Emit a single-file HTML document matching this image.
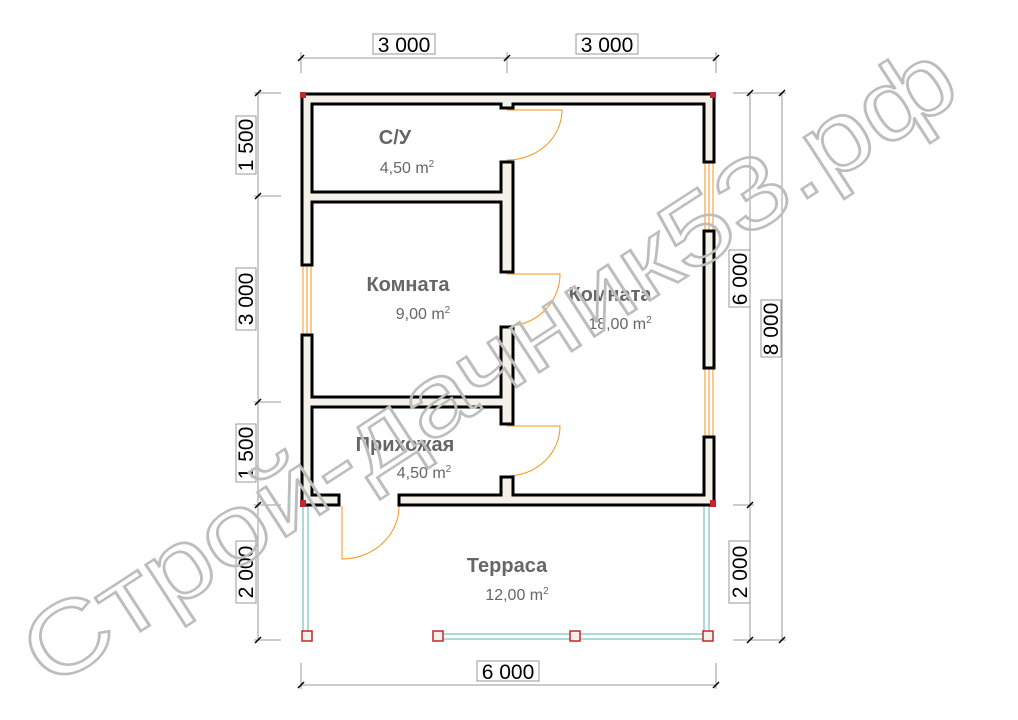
<!DOCTYPE html>
<html><head><meta charset="utf-8"><style>
html,body{margin:0;padding:0;background:#fff;width:1018px;height:720px;overflow:hidden}
svg{display:block}
.dim{font-family:"Liberation Sans",sans-serif;font-size:21px;fill:#000}
.lbl{font-family:"Liberation Sans",sans-serif;font-weight:bold;font-size:20px;fill:#666}
.ar{font-family:"Liberation Sans",sans-serif;font-size:16px;fill:#666}
</style></head><body>
<svg width="1018" height="720" viewBox="0 0 1018 720">
<g stroke="#999" stroke-width="1" fill="none">
<line x1="301" y1="58" x2="716" y2="58"/>
<line x1="301" y1="52" x2="301" y2="73"/><line x1="507" y1="52" x2="507" y2="73"/><line x1="716" y1="52" x2="716" y2="73"/>
<line x1="258" y1="93" x2="258" y2="640"/>
<line x1="254" y1="93" x2="281" y2="93"/><line x1="254" y1="196" x2="281" y2="196"/><line x1="254" y1="402" x2="281" y2="402"/><line x1="254" y1="505" x2="281" y2="505"/><line x1="254" y1="640" x2="281" y2="640"/>
<line x1="750" y1="93" x2="750" y2="640"/><line x1="782" y1="93" x2="782" y2="640"/>
<line x1="733" y1="93" x2="786" y2="93"/><line x1="733" y1="505" x2="754" y2="505"/><line x1="733" y1="640" x2="786" y2="640"/>
<line x1="301" y1="685" x2="716" y2="685"/>
<line x1="301" y1="663" x2="301" y2="689"/><line x1="716" y1="663" x2="716" y2="689"/>
</g>
<g stroke="#000" stroke-width="1.5">
<line x1="298" y1="61" x2="304" y2="55"/><line x1="504" y1="61" x2="510" y2="55"/><line x1="713" y1="61" x2="719" y2="55"/>
<line x1="255" y1="96" x2="261" y2="90"/><line x1="255" y1="199" x2="261" y2="193"/><line x1="255" y1="405" x2="261" y2="399"/><line x1="255" y1="508" x2="261" y2="502"/><line x1="255" y1="643" x2="261" y2="637"/>
<line x1="747" y1="96" x2="753" y2="90"/><line x1="747" y1="508" x2="753" y2="502"/><line x1="747" y1="643" x2="753" y2="637"/>
<line x1="779" y1="96" x2="785" y2="90"/><line x1="779" y1="643" x2="785" y2="637"/>
<line x1="298" y1="688" x2="304" y2="682"/><line x1="713" y1="688" x2="719" y2="682"/>
</g>
<g fill="#fff" stroke="#999" stroke-width="1">
<rect x="373" y="34" width="62" height="20"/><rect x="576" y="34" width="62" height="20"/>
<rect x="236" y="116" width="20" height="58"/><rect x="236" y="268" width="20" height="62"/><rect x="236" y="424" width="20" height="58"/><rect x="236" y="541" width="20" height="62"/>
<rect x="729" y="250" width="21" height="57"/><rect x="729" y="541" width="21" height="62"/><rect x="761" y="300" width="20" height="57"/>
<rect x="477" y="661" width="62" height="20"/>
</g>
<text class="dim" x="404" y="52" text-anchor="middle">3 000</text>
<text class="dim" x="607" y="52" text-anchor="middle">3 000</text>
<text class="dim" x="508" y="679" text-anchor="middle">6 000</text>
<g class="dim" text-anchor="middle">
<text transform="translate(253,145) rotate(-90)">1 500</text>
<text transform="translate(253,299) rotate(-90)">3 000</text>
<text transform="translate(253,453) rotate(-90)">1 500</text>
<text transform="translate(253,572) rotate(-90)">2 000</text>
<text transform="translate(747,279) rotate(-90)">6 000</text>
<text transform="translate(747,572) rotate(-90)">2 000</text>
<text transform="translate(778,329) rotate(-90)">8 000</text>
</g>
<g stroke="#f7931e" stroke-width="1" fill="none">
<rect x="303" y="265" width="8" height="70"/><line x1="307" y1="265" x2="307" y2="335"/>
<rect x="705" y="162" width="8" height="69"/><line x1="709" y1="162" x2="709" y2="231"/>
<rect x="705" y="368" width="8" height="69"/><line x1="709" y1="368" x2="709" y2="437"/>
<path d="M507,110 H562 A55,50 0 0 1 507,160"/>
<path d="M507,274 H560 A53,52 0 0 1 507,326"/>
<path d="M507,426 H560 A53,50 0 0 1 507,476"/>
<path d="M342,506 V559 A57,53 0 0 0 399,506"/>
</g>
<g stroke="#5fb3b3" stroke-width="1" fill="none">
<rect x="303" y="506" width="5" height="130"/>
<rect x="704" y="506" width="5" height="130"/>
<rect x="443" y="634" width="264" height="5"/>
</g>
<g fill="#f4f1ea" stroke="#000" stroke-width="3">
<path d="M302,94 H714 V162 H704 V104 H513 V108 H501 V104 H312 V192 H501 V162 H513 V272 H501 V202 H312 V265 H302 Z"/>
<path d="M302,335 H312 V397 H501 V327 H513 V424 H501 V407 H312 V495 H339 V505 H302 Z"/>
<path d="M399,505 V495 H501 V477 H513 V495 H704 V437 H714 V505 Z"/>
<path d="M704,231 H714 V368 H704 Z"/>
</g>
<g fill="#c1272d">
<rect x="300" y="92" width="6" height="6"/><rect x="710" y="92" width="6" height="6"/>
<rect x="300" y="500" width="6" height="7"/><rect x="710" y="500" width="6" height="7"/>
</g>
<g fill="#f4f1ea" stroke="#c1272d" stroke-width="1.5">
<rect x="302" y="631" width="10" height="10"/><rect x="433" y="631" width="10" height="10"/><rect x="570" y="631" width="10" height="10"/><rect x="703" y="631" width="10" height="10"/>
</g>
<text class="lbl" x="395" y="144" text-anchor="middle">С/У</text>
<text class="ar" x="407" y="173" text-anchor="middle">4,50 m<tspan font-size="10" dy="-6">2</tspan></text>
<text class="lbl" x="408" y="291" text-anchor="middle">Комната</text>
<text class="ar" x="423" y="319" text-anchor="middle">9,00 m<tspan font-size="10" dy="-6">2</tspan></text>
<text class="lbl" x="610" y="301" text-anchor="middle">Комната</text>
<text class="ar" x="620" y="329" text-anchor="middle">18,00 m<tspan font-size="10" dy="-6">2</tspan></text>
<text class="lbl" x="405" y="451" text-anchor="middle">Прихожая</text>
<text class="ar" x="424" y="478" text-anchor="middle">4,50 m<tspan font-size="10" dy="-6">2</tspan></text>
<text class="lbl" x="507" y="572" text-anchor="middle">Терраса</text>
<text class="ar" x="517" y="600" text-anchor="middle">12,00 m<tspan font-size="10" dy="-6">2</tspan></text>
<text x="0" y="0" transform="translate(50,690) rotate(-33)" font-family="Liberation Sans, sans-serif" font-size="100" fill="none" stroke="#bdbdbd" stroke-width="2.5" textLength="1090" lengthAdjust="spacingAndGlyphs">Строй-дачник53.рф</text>
</svg>
</body></html>
